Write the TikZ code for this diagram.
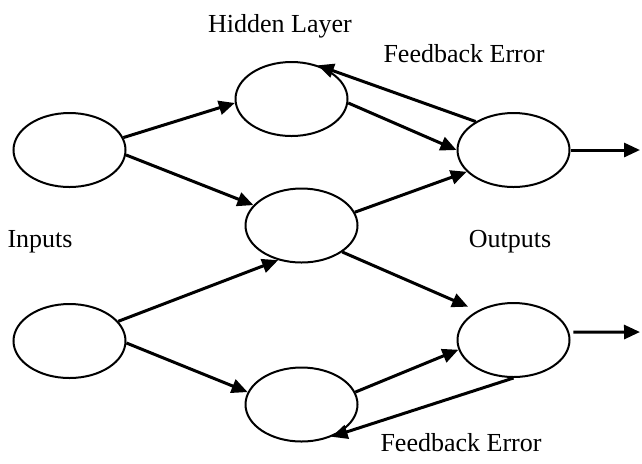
\documentclass[tikz,border=0pt]{standalone}
\usepackage{fontspec}
\setmainfont{Liberation Serif}
\usepackage{tikz}
\usetikzlibrary{shapes.geometric, arrows.meta}
\tikzstyle{neuron} = [draw,shape=ellipse,line width=1pt,minimum width=56pt,minimum height=37pt,inner sep=0pt]
\tikzstyle{link} = [line width=1.5pt,-{Triangle[length=8pt,width=7pt]}]
\tikzstyle{caption} = [anchor=base,inner sep=0pt,font=\fontsize{13}{15}\selectfont]

\begin{document}
\begin{tikzpicture}[x=0.5pt,y=-0.5pt]
			\useasboundingbox (0,0) rectangle (642,463);
			
			\node[neuron] (in1) at (69.5,150) {};
			\node[neuron] (in2) at (69.5,341) {};
			\node[neuron] (h1) at (291.5,99) {};
			\node[neuron] (h2) at (301.5,225.5) {};
			\node[neuron] (h3) at (301.5,404.5) {};
			\node[neuron] (out1) at (513.5,150) {};
			\node[neuron] (out2) at (513.5,340) {};
			
			\coordinate (y1) at (640,150);
			\coordinate (y2) at (640,332);
			
			\draw[link] (in1.13) -- (h1.184);
			\draw[link] (in1.-5) -- (h2.157);
			\draw[link] (in2.22) -- (h2.236);
			\draw[link] (in2.-2) -- (h3.167);
			
			\draw[link] (h1.-4) -- (out1.180);
			\draw[link] (h2.14) -- (out1.205);
			\draw[link,shorten >=5pt] (h2.-33) -- (out2.141);
			\draw[link] (h3.13) -- (out2.190);
			
			% feedback
			\draw[link] (out1.143) -- (h1.52);
			\draw[link] (out2.270) -- (h3.-47);
			
			\draw[link] (out1.east) -- (y1);
			\draw[link,shorten <=2pt] (out2.8) -- (y2);
			
			\node[caption] (hl) at (280,32) {Hidden Layer};
			\node[caption] (fb1) at (464,62) {Feedback Error};
			\node[caption] (ins) at (40,247) {Inputs};
			\node[caption] (outs) at (510,247) {Outputs};
			\node[caption] (fb2) at (461,451) {Feedback Error};
			
			\end{tikzpicture}
\end{document}
